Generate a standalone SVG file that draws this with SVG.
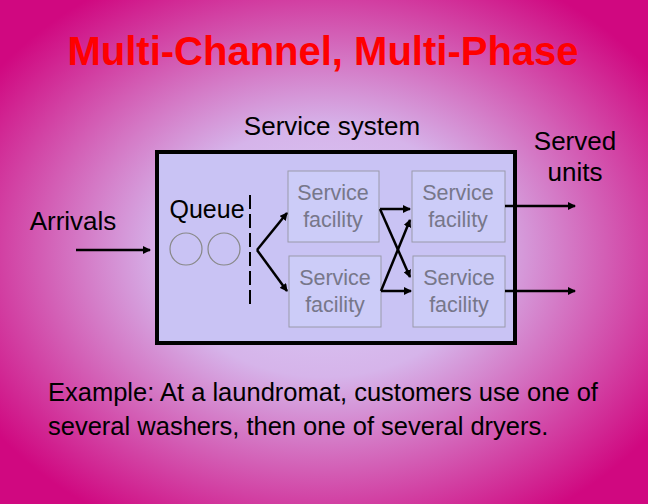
<svg xmlns="http://www.w3.org/2000/svg" width="648" height="504" viewBox="0 0 648 504">
<defs>
<radialGradient id="bg" cx="50%" cy="50%" r="62%">
<stop offset="0" stop-color="#d8d0f8"/><stop offset="0.4" stop-color="#d6b4ea"/><stop offset="1" stop-color="#d00880"/>
</radialGradient>
<marker id="ah" markerWidth="8" markerHeight="8" refX="7" refY="4" orient="auto" markerUnits="userSpaceOnUse"><path d="M0,0 L8,4 L0,8 Z" fill="#000"/></marker>
<style>
.t{font-family:"Liberation Sans",Arial,sans-serif}
.f{fill:#ccccf8;stroke:#9a9aaa;stroke-width:1}
.ft{font-family:"Liberation Sans",Arial,sans-serif;font-size:21.5px;fill:#77778a;text-anchor:middle}
.c{stroke:#000;stroke-width:2.5;fill:none;marker-end:url(#ah)}
</style>
</defs>
<rect width="648" height="504" fill="url(#bg)"/>
<text class="t" x="323" y="65" font-size="40" font-weight="bold" fill="#ff0000" text-anchor="middle">Multi-Channel, Multi-Phase</text>
<text class="t" x="332" y="135" font-size="26" text-anchor="middle">Service system</text>
<g id="system"><rect x="157" y="152" width="358" height="191" fill="#c9c3f4" stroke="#000" stroke-width="4"/></g>
<text class="t" x="73" y="230" font-size="26" text-anchor="middle">Arrivals</text>
<text class="t" x="575" y="150" font-size="26" text-anchor="middle">Served</text>
<text class="t" x="575" y="181" font-size="26" text-anchor="middle">units</text>
<g id="queue">
<text class="t" x="207" y="218" font-size="25" text-anchor="middle">Queue</text>
<circle cx="186" cy="249" r="16" fill="none" stroke="#888" stroke-width="1.2"/>
<circle cx="224" cy="249" r="16" fill="none" stroke="#888" stroke-width="1.2"/>
<line x1="250" y1="195" x2="250" y2="305" stroke="#000" stroke-width="2" stroke-dasharray="14,5"/>
</g>
<g id="f1"><rect class="f" x="288" y="171" width="91" height="71"/><text class="ft" x="333" y="200">Service</text><text class="ft" x="333" y="227">facility</text></g>
<g id="f2"><rect class="f" x="289" y="256" width="92" height="71"/><text class="ft" x="335" y="285">Service</text><text class="ft" x="335" y="312">facility</text></g>
<g id="f3"><rect class="f" x="412" y="171" width="93" height="71"/><text class="ft" x="458" y="200">Service</text><text class="ft" x="458" y="227">facility</text></g>
<g id="f4"><rect class="f" x="413" y="256" width="92" height="71"/><text class="ft" x="459" y="285">Service</text><text class="ft" x="459" y="312">facility</text></g>
<g id="connectors">
<line class="c" x1="76" y1="250" x2="150" y2="250"/>
<polyline class="c" points="257,250 287,213"/>
<polyline class="c" points="257,250 287,291"/>
<line class="c" x1="380" y1="209" x2="410" y2="209"/>
<line class="c" x1="380" y1="209" x2="410" y2="277"/>
<line class="c" x1="381" y1="291" x2="411" y2="291"/>
<line class="c" x1="381" y1="291" x2="410" y2="220"/>
<line class="c" x1="505" y1="206" x2="575" y2="206"/>
<line class="c" x1="505" y1="291" x2="575" y2="291"/>
</g>
<text class="t" x="48" y="401" font-size="25.5">Example: At a laundromat, customers use one of</text>
<text class="t" x="48" y="435" font-size="25.5">several washers, then one of several dryers.</text>
</svg>
